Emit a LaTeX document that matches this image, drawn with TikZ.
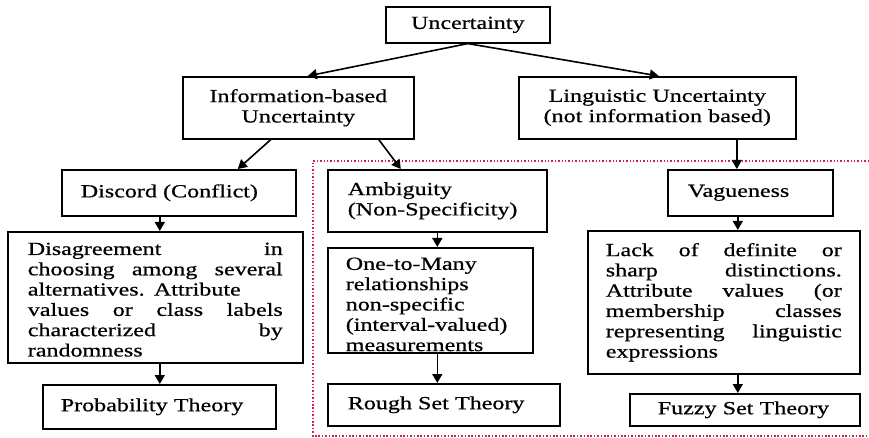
\documentclass[tikz,border=0pt]{standalone}
\usepackage{fontspec}
\setmainfont{Liberation Serif}[FakeStretch=1.3,FakeBold=0.6]
\usetikzlibrary{arrows.meta,calc}
\definecolor{dotcol}{RGB}{214,28,84}
\newcommand\jl[1]{\makebox[\hsize][s]{\spaceskip=.25em plus 20em\relax #1}}
\begin{document}
\begin{tikzpicture}[x=1pt,y=-1pt,
  box/.style={draw, line width=1.6pt, anchor=north west, inner ysep=0pt,
    font=\fontsize{18.5pt}{20.3pt}\selectfont, align=left},
  arr/.style={line width=1.6pt, -{Triangle[length=9pt,width=10pt]}},
  dotred/.style={draw=dotcol, line width=2pt, dash pattern=on 1.5pt off 1.9pt}
]
\fill[white] (0,0) rectangle (869,438);
\useasboundingbox (0,0) rectangle (869,438);

% dotted frame
\draw[dotred] (869,161) -- (313,161) -- (313,436) -- (869,436);

\node[box, minimum width=164pt, minimum height=36pt, inner xsep=5pt, text width=154pt, align=center] (unc) at (385,6) {Uncertainty};
\node[box, minimum width=231pt, minimum height=62pt, inner xsep=5pt, text width=221pt, align=center] (info) at (182,76) {Information-based\\Uncertainty};
\node[box, minimum width=277pt, minimum height=62pt, inner xsep=5pt, text width=267pt, align=center] (ling) at (518,76) {Linguistic Uncertainty\\(not information based)};
\node[box, minimum width=234pt, minimum height=46pt, inner xsep=19pt, text width=196pt] (disc) at (61,169) {Discord (Conflict)};
\node[box, minimum width=219pt, minimum height=62pt, inner xsep=20pt, text width=179pt] (amb) at (327,169) {Ambiguity\\(Non-Specificity)};
\node[box, minimum width=165pt, minimum height=46pt, inner xsep=20pt, text width=125pt] (vag) at (667,169) {Vagueness};
\node[box, minimum width=295pt, minimum height=131pt, inner xsep=20pt, text width=255pt] (dis) at (7,231)
  {\rule{0pt}{17pt}\jl{Disagreement in}\\\jl{choosing among several}\\\jl{alternatives. Attribute}\\\jl{values or class labels}\\\jl{characterized by}\\randomness};
\node[box, minimum width=205pt, minimum height=105pt, inner xsep=18pt, text width=169pt] (otm) at (327,247)
  {\rule{0pt}{20.5pt}One-to-Many\\relationships\\non-specific\\(interval-valued)\\measurements};
\node[box, minimum width=272pt, minimum height=143pt, inner xsep=18pt, text width=236pt] (lack) at (587,230)
  {\jl{Lack of definite or}\\\jl{sharp distinctions.}\\\jl{Attribute values (or}\\\jl{membership classes}\\\jl{representing linguistic}\\expressions};
\node[box, minimum width=233pt, minimum height=44pt, inner xsep=18pt, text width=197pt] (prob) at (42,384) {Probability Theory};
\node[box, minimum width=232pt, minimum height=42pt, inner xsep=20pt, text width=192pt] (rough) at (327,383) {Rough Set Theory};
\node[box, minimum width=230pt, minimum height=32pt, inner xsep=28pt, text width=174pt] (fuzzy) at (629,393) {Fuzzy Set Theory};

% connectors
\draw[arr] (unc.south) -- ([xshift=9.5pt]info.north);
\draw[arr] (unc.south) -- ([xshift=1.5pt]ling.north);
\draw[arr] ([xshift=-27.5pt]info.south) -- ([xshift=59pt]disc.north);
\draw[arr] ([xshift=80.5pt]info.south) -- ([xshift=-36.5pt]amb.north);
\draw[arr] ([xshift=79.5pt]ling.south) -- ([xshift=79.5pt]ling.south |- vag.north);
\draw[arr] ([xshift=-19pt]disc.south) -- ([xshift=-19pt]disc.south |- dis.north);
\draw[arr] ([xshift=4.5pt]dis.south) -- ([xshift=4.5pt]dis.south |- prob.north);
\draw[arr] (amb.south) -- (amb.south |- otm.north);
\draw[arr] (otm.south -| amb.south) -- (amb.south |- rough.north);
\draw[arr] ([xshift=-12.5pt]vag.south) -- ([xshift=-12.5pt]vag.south |- lack.north);
\draw[arr] ([xshift=14pt]lack.south) -- ([xshift=14pt]lack.south |- fuzzy.north);
\end{tikzpicture}
\end{document}
